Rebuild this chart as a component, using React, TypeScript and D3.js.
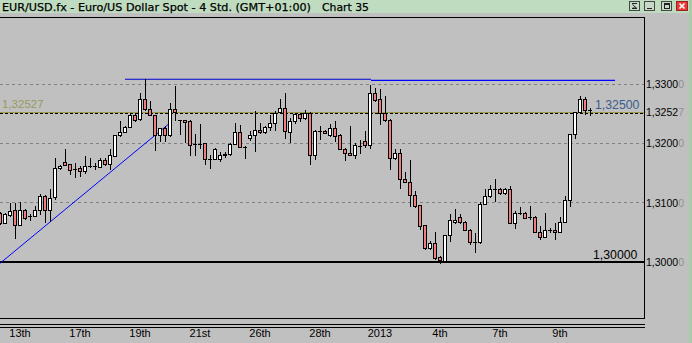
import React from 'react';
import * as d3 from 'd3';

// ---- data (4h candles, EUR/USD) ----
const opens = [
  1.30807, 1.30650, 1.30778, 1.30858, 1.30609, 1.30874, 1.30761, 1.30761, 1.30863, 1.31111,
  1.30863, 1.31082, 1.31573, 1.31681, 1.31647, 1.31563, 1.31568, 1.31517, 1.31613, 1.31602,
  1.31596, 1.31715, 1.31640, 1.31776, 1.32126, 1.32188, 1.32273, 1.32476, 1.32408, 1.32735,
  1.32582, 1.32464, 1.32126, 1.32249, 1.32126, 1.32570, 1.32384, 1.32384, 1.32368, 1.31974,
  1.31990, 1.32002, 1.31732, 1.31732, 1.31720, 1.31788, 1.31816, 1.31990, 1.32193, 1.31928,
  1.32087, 1.32126, 1.32222, 1.32182, 1.32273, 1.32341, 1.32520, 1.32594, 1.32182, 1.32368,
  1.32481, 1.32425, 1.32510, 1.31793, 1.32210, 1.32210, 1.32131, 1.32256, 1.32131, 1.31901,
  1.31833, 1.31799, 1.31952, 1.32041, 1.31962, 1.32848, 1.32735, 1.32510, 1.32396, 1.31749,
  1.31833, 1.31382, 1.31336, 1.31116, 1.30942, 1.30604, 1.30227, 1.30300, 1.30075, 1.30000,
  1.30435, 1.30660, 1.30751, 1.30666, 1.30536, 1.30321, 1.30321, 1.30971, 1.31099, 1.31224,
  1.31224, 1.31145, 1.31224, 1.30650, 1.30807, 1.30819, 1.30751, 1.30751, 1.30491, 1.30413,
  1.30524, 1.30536, 1.30497, 1.30666, 1.31027, 1.32143, 1.32520, 1.32735, 1.32554,
];
const highs = [
  1.30824, 1.30807, 1.30976, 1.30988, 1.30998, 1.30891, 1.30790, 1.30930, 1.31128, 1.31120,
  1.31213, 1.31749, 1.31635, 1.31889, 1.31652, 1.31664, 1.31602, 1.31776, 1.31742, 1.31664,
  1.31749, 1.31749, 1.31889, 1.32131, 1.32368, 1.32278, 1.32481, 1.32481, 1.32848, 1.33085,
  1.32706, 1.32469, 1.32253, 1.32278, 1.32679, 1.32959, 1.32388, 1.32396, 1.32388, 1.32143,
  1.32312, 1.32007, 1.31788, 1.31906, 1.31843, 1.31843, 1.31999, 1.32329, 1.32295, 1.31940,
  1.32210, 1.32548, 1.32329, 1.32278, 1.32464, 1.32537, 1.32751, 1.32836, 1.32425, 1.32510,
  1.32510, 1.32565, 1.32515, 1.32215, 1.32283, 1.32227, 1.32324, 1.32368, 1.32143, 1.31906,
  1.32283, 1.32002, 1.32058, 1.32198, 1.32988, 1.32932, 1.32915, 1.32802, 1.32405, 1.31889,
  1.31901, 1.31505, 1.31708, 1.31184, 1.30951, 1.30612, 1.30338, 1.30491, 1.30080, 1.30443,
  1.30790, 1.30886, 1.30790, 1.30672, 1.30545, 1.30480, 1.30998, 1.31224, 1.31297, 1.31394,
  1.31230, 1.31230, 1.31268, 1.30846, 1.30920, 1.30824, 1.30930, 1.30756, 1.30592, 1.30807,
  1.30553, 1.30638, 1.30751, 1.31099, 1.32148, 1.32523, 1.32790, 1.32780, 1.32594,
];
const lows = [
  1.30621, 1.30638, 1.30761, 1.30396, 1.30604, 1.30722, 1.30694, 1.30756, 1.30790, 1.30660,
  1.30677, 1.31044, 1.31551, 1.31627, 1.31483, 1.31427, 1.31449, 1.31500, 1.31585, 1.31551,
  1.31593, 1.31635, 1.31551, 1.31771, 1.32114, 1.32185, 1.32261, 1.32379, 1.32396, 1.32565,
  1.32464, 1.31877, 1.32029, 1.32029, 1.32117, 1.32396, 1.32143, 1.32012, 1.31788, 1.31788,
  1.31906, 1.31652, 1.31568, 1.31720, 1.31691, 1.31766, 1.31804, 1.31974, 1.31923, 1.31749,
  1.32058, 1.31860, 1.32171, 1.32176, 1.32227, 1.32215, 1.32515, 1.32087, 1.32012, 1.32341,
  1.32368, 1.32408, 1.31647, 1.31732, 1.32070, 1.32160, 1.32114, 1.32041, 1.31889, 1.31708,
  1.31796, 1.31749, 1.31833, 1.31935, 1.31906, 1.32709, 1.32312, 1.32379, 1.31563, 1.31732,
  1.31241, 1.31331, 1.30930, 1.30925, 1.30548, 1.30198, 1.30198, 1.30029, 1.29973, 1.29995,
  1.30338, 1.30650, 1.30650, 1.30528, 1.30283, 1.30152, 1.30316, 1.30967, 1.31094, 1.31015,
  1.31137, 1.31137, 1.30646, 1.30565, 1.30798, 1.30731, 1.30722, 1.30486, 1.30367, 1.30409,
  1.30486, 1.30379, 1.30494, 1.30663, 1.30930, 1.32087, 1.32515, 1.32481, 1.32464,
];
const closes = [
  1.30638, 1.30790, 1.30846, 1.30609, 1.30874, 1.30734, 1.30761, 1.30874, 1.31111, 1.30863,
  1.31072, 1.31580, 1.31618, 1.31635, 1.31539, 1.31563, 1.31517, 1.31607, 1.31613, 1.31602,
  1.31715, 1.31640, 1.31788, 1.32126, 1.32193, 1.32273, 1.32476, 1.32384, 1.32735, 1.32582,
  1.32469, 1.32126, 1.32249, 1.32126, 1.32570, 1.32527, 1.32384, 1.32351, 1.31962, 1.31974,
  1.31990, 1.31732, 1.31732, 1.31889, 1.31788, 1.31821, 1.31990, 1.32193, 1.31935, 1.31928,
  1.32126, 1.32227, 1.32188, 1.32273, 1.32341, 1.32498, 1.32594, 1.32198, 1.32379, 1.32481,
  1.32425, 1.32510, 1.31793, 1.32210, 1.32210, 1.32171, 1.32256, 1.32114, 1.31901, 1.31833,
  1.31799, 1.31957, 1.31952, 1.31962, 1.32848, 1.32718, 1.32510, 1.32384, 1.31749, 1.31833,
  1.31382, 1.31336, 1.31116, 1.30930, 1.30592, 1.30227, 1.30300, 1.30058, 1.30017, 1.30435,
  1.30705, 1.30694, 1.30666, 1.30536, 1.30328, 1.30321, 1.30971, 1.31099, 1.31224, 1.31224,
  1.31145, 1.31224, 1.30650, 1.30819, 1.30807, 1.30734, 1.30751, 1.30491, 1.30413, 1.30536,
  1.30524, 1.30497, 1.30666, 1.31027, 1.32143, 1.32520, 1.32735, 1.32565, 1.32554,
];

const tickIndex = [4, 16, 28, 40, 52, 64, 76, 88, 100, 112];
const tickLabels = ['13th', '17th', '19th', '21st', '26th', '28th', '2013', '4th', '7th', '9th'];
const gridLevels = [1.33, 1.32, 1.31];
const axisLevels = [1.33, 1.32527, 1.32, 1.31, 1.3];
const supportLevel = 1.3;
const bidLevel = 1.32527;
const lastLevel = 1.325;
const resistanceA = [[25, 1.33085], [74.2, 1.33085]];
const resistanceB = [[74.2, 1.33068], [123, 1.33068]];
const trendLine = [[0, 1.29973], [34.3, 1.32368]];

const W = 692;
const H = 343;
const PR = 644; // plot right
const PT = 17;  // plot top
const PB = 318; // plot bottom

const fmt = (v: number) => v.toFixed(5).replace('.', ',');

export default function App() {
  const x = d3.scaleLinear().domain([0, 129]).range([0, 645]);
  const y = d3.scaleLinear().domain([1.3, 1.33]).range([261.7, 84.3]);
  const fy = (v: number) => Math.floor(y(v)) + 0.5;
  const line = d3.line<number[]>().x((d) => x(d[0])).y((d) => y(d[1]));

  const candles = opens.map((o, i) => {
    const c = closes[i];
    const cx = Math.round(x(i));
    const top = fy(Math.max(o, c));
    const bot = fy(Math.min(o, c));
    const wy1 = Math.floor(y(highs[i]));
    const wy2 = Math.floor(y(lows[i])) + 1;
    const up = c > o;
    const doji = bot - top < 1;
    return (
      <g key={i}>
        <line x1={cx + 0.5} x2={cx + 0.5} y1={wy1} y2={wy2} stroke="#000" strokeWidth={1} />
        {doji ? (
          <line x1={cx - 2} x2={cx + 2} y1={top} y2={top} stroke="#000" strokeWidth={1} />
        ) : (
          <rect x={cx - 1.5} y={top} width={3} height={bot - top}
            fill={up ? '#ffffff' : '#f08080'} stroke="#000" strokeWidth={1} />
        )}
      </g>
    );
  });

  const font = 'Liberation Sans, Arial, sans-serif';

  return (
    <svg width={W} height={H} style={{ position: 'fixed', left: 0, top: 0, display: 'block' }}
      xmlns="http://www.w3.org/2000/svg">
      <defs>
        <clipPath id="plotclip">
          <rect x={0} y={PT + 1} width={PR} height={PB - PT - 1} />
        </clipPath>
      </defs>
      {/* window */}
      <rect x={0} y={0} width={W} height={H} fill="#c0c0c0" />
      <rect x={0} y={0} width={W} height={13} fill="#c0dcc0" />
      <rect x={689} y={0} width={3} height={H} fill="#a8cca8" />
      <text x={2} y={10.5} fontFamily="DejaVu Sans, sans-serif" fontSize={11} fill="#000"
        stroke="#000" strokeWidth={0.25}
        textLength={309} lengthAdjust="spacingAndGlyphs">
        EUR/USD.fx - Euro/US Dollar Spot - 4 Std. (GMT+01:00)
      </text>
      <text x={322} y={10.5} fontFamily="DejaVu Sans, sans-serif" fontSize={11} fill="#000"
        stroke="#000" strokeWidth={0.25}
        textLength={47} lengthAdjust="spacingAndGlyphs">
        Chart 35
      </text>
      {/* title buttons */}
      <g stroke="#404840" strokeWidth={1}>
        <rect x={629.5} y={1.5} width={10} height={9} fill="#c8d8c8" />
        <rect x={644.5} y={1.5} width={10} height={9} fill="#c8d8c8" />
        <rect x={661.5} y={1.5} width={10} height={9} fill="#c8d8c8" />
        <rect x={676.5} y={1.5} width={11} height={9} fill="#e83838" stroke="#a02020" />
      </g>
      <g stroke="#202020" strokeWidth={1} fill="none">
        <line x1={632} x2={637} y1={3.5} y2={3.5} />
        <path d="M632.5,4.5 L636.5,8 L632.5,8" />
        <line x1={632} x2={637} y1={8.5} y2={8.5} />
        <line x1={647} x2={652} y1={8.5} y2={8.5} strokeWidth={1} />
        <rect x={664.5} y={3.5} width={5} height={5} />
        <line x1={665} x2={669} y1={4.5} y2={4.5} />
      </g>
      <g stroke="#ffffff" strokeWidth={1.6}>
        <line x1={679.5} x2={684.5} y1={3.5} y2={8.5} />
        <line x1={684.5} x2={679.5} y1={3.5} y2={8.5} />
      </g>

      {/* grid */}
      {gridLevels.map((v) => (
        <line key={v} x1={0} x2={PR} y1={fy(v)} y2={fy(v)} stroke="#808080" strokeDasharray="3,3" />
      ))}
      <line x1={0} x2={PR} y1={Math.floor(y(supportLevel)) + 1} y2={Math.floor(y(supportLevel)) + 1}
        stroke="#000" strokeWidth={2} />
      <line x1={0} x2={PR} y1={fy(bidLevel)} y2={fy(bidLevel)} stroke="#9a9a48" />
      <line x1={0} x2={PR} y1={fy(bidLevel) + 1} y2={fy(bidLevel) + 1} stroke="#000" strokeDasharray="3,2" />

      <g clipPath="url(#plotclip)">
        <path d={line(trendLine as any) || ''} stroke="#0000ff" fill="none" strokeWidth={1} />
        <path d={line(resistanceA as any) || ''} stroke="#0000d0" fill="none" strokeWidth={1.2} />
        <path d={line(resistanceB as any) || ''} stroke="#0000ff" fill="none" strokeWidth={1.2} />
        {candles}
      </g>

      {/* line labels */}
      <text x={2} y={108} fontFamily={font} fontSize={11.5} fill="#9a9a5e">{fmt(bidLevel)}</text>
      <text x={595} y={108.5} fontFamily={font} fontSize={12.3} fill="#3c5c8c">{fmt(lastLevel)}</text>
      <text x={593} y={258.5} fontFamily={font} fontSize={12.3} fill="#000">{fmt(supportLevel)}</text>

      {/* frame */}
      <g stroke="#000" strokeWidth={1} fill="none">
        <line x1={0} x2={PR + 1} y1={PT + 0.5} y2={PT + 0.5} />
        <line x1={PR + 0.5} x2={PR + 0.5} y1={PT} y2={PB + 1} />
        <line x1={0} x2={PR + 1} y1={PB + 0.5} y2={PB + 0.5} />
        <line x1={0} x2={PR + 1} y1={324.5} y2={324.5} />
        <line x1={0} x2={PR + 1} y1={327.5} y2={327.5} />
      </g>

      {/* right axis */}
      {axisLevels.map((v) => {
        const s = fmt(v);
        return (
          <text key={v} x={646} y={y(v) + 4} fontFamily={font} fontSize={10.5} fill="#000">
            {s.slice(0, 6)}
            <tspan fill="#909090">{s.slice(6)}</tspan>
          </text>
        );
      })}

      {/* bottom axis */}
      {tickIndex.map((t, i) => (
        <text key={t} x={x(t)} y={337} textAnchor="middle" fontFamily={font} fontSize={11} fill="#000">
          {tickLabels[i]}
        </text>
      ))}
    </svg>
  );
}
